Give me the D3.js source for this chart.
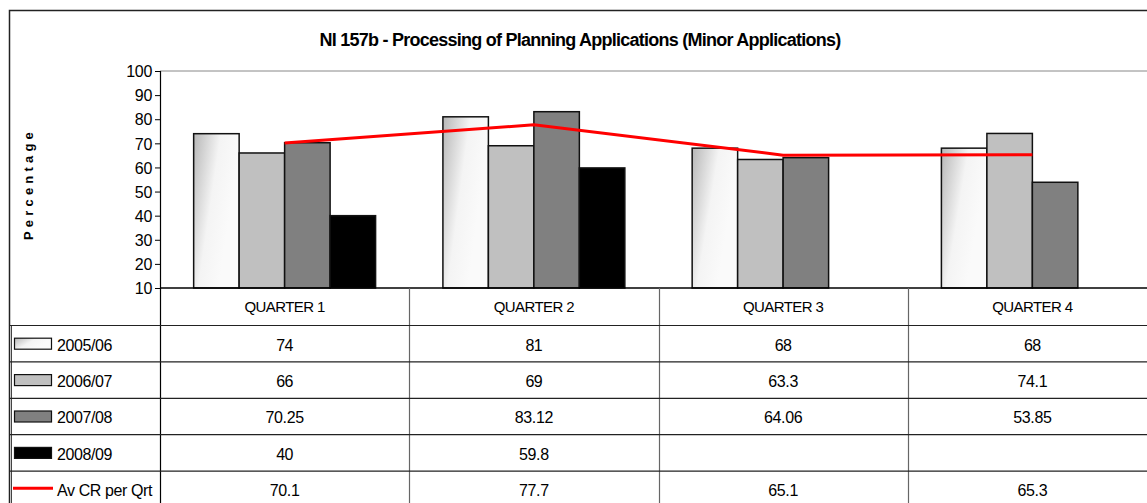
<!DOCTYPE html>
<html>
<head>
<meta charset="utf-8">
<script src="https://cdn.jsdelivr.net/npm/d3@7/dist/d3.min.js"></script>
<style>
  body { margin: 0; background: #fff; }
  text { font-family: "Liberation Sans", Arial, sans-serif; fill: #000; }
</style>
</head>
<body>
<div id="chart"></div>
<script>
var quarters = ["QUARTER 1", "QUARTER 2", "QUARTER 3", "QUARTER 4"];
var seriesNames = ["2005/06", "2006/07", "2007/08", "2008/09"];
var v0506 = [74, 81, 68, 68];
var v0607 = [66, 69, 63.3, 74.1];
var v0708 = [70.25, 83.12, 64.06, 53.85];
var v0809 = [40, 59.8, null, null];
var avgName = "Av CR per Qrt";
var avgCR = [70.1, 77.7, 65.1, 65.3];
var yTicks = [10, 20, 30, 40, 50, 60, 70, 80, 90, 100];
var title = "NI 157b - Processing of Planning Applications (Minor Applications)";

var seriesValues = [v0506, v0607, v0708, v0809];
var fills = ["url(#grad0506)", "#c0c0c0", "#808080", "#000000"];

var width = 1147, height = 503;
var plotLeft = 160, plotRight = 1157, plotTop = 71, plotBottom = 288;
var rowH = 36.4, headerBottom = 325.5;

var svg = d3.select("#chart")
    .append("svg")
    .attr("width", width)
    .attr("height", height);

var defs = svg.append("defs");
var grad = defs.append("linearGradient")
    .attr("id", "grad0506")
    .attr("x1", "0").attr("y1", "0.1")
    .attr("x2", "0.8").attr("y2", "0.5");
grad.append("stop").attr("offset", "0%").attr("stop-color", "#bcbcbc");
grad.append("stop").attr("offset", "55%").attr("stop-color", "#f4f4f4");
grad.append("stop").attr("offset", "100%").attr("stop-color", "#fafafa");

var x = d3.scaleBand()
    .domain(quarters)
    .range([plotLeft, plotRight]);

var xs = d3.scaleBand()
    .domain(seriesNames)
    .range([0, x.bandwidth()])
    .paddingOuter(0.74);

var y = d3.scaleLinear()
    .domain([10, 100])
    .range([plotBottom, plotTop]);

// outer frame
svg.append("path")
    .attr("d", "M9.5," + height + "V10.5H" + width)
    .attr("fill", "none")
    .attr("stroke", "#222")
    .attr("stroke-width", 1.5);

// title
svg.append("text")
    .attr("x", 580)
    .attr("y", 46)
    .attr("text-anchor", "middle")
    .style("font-size", "18px")
    .style("font-weight", "bold")
    .style("letter-spacing", "-0.75px")
    .text(title);

// y label
svg.append("text")
    .attr("transform", "translate(33,184) rotate(-90)")
    .attr("text-anchor", "middle")
    .style("font-size", "13px")
    .style("font-weight", "bold")
    .style("letter-spacing", "4.2px")
    .text("Percentage");

// top border of plot
svg.append("line")
    .attr("x1", plotLeft).attr("x2", width)
    .attr("y1", plotTop).attr("y2", plotTop)
    .attr("stroke", "#888").attr("stroke-width", 1);

// y axis
var yAxis = svg.append("g")
    .attr("transform", "translate(" + plotLeft + ",0)")
    .call(d3.axisLeft(y).tickValues(yTicks).tickSize(5).tickPadding(3));
yAxis.selectAll("text")
    .style("font-size", "16px")
    .style("letter-spacing", "-0.3px")
    .style("font-family", "Liberation Sans, Arial, sans-serif")
    .attr("dy", "0.36em");
yAxis.select(".domain").attr("stroke", "#000").attr("stroke-width", 1);
yAxis.selectAll(".tick line").attr("stroke", "#000");

// bars
var groups = svg.selectAll(".qgroup")
    .data(quarters)
    .enter().append("g")
    .attr("class", "qgroup")
    .attr("transform", function(d) { return "translate(" + x(d) + ",0)"; });

groups.selectAll("rect")
    .data(function(q, qi) {
        return seriesNames.map(function(s, si) {
            return {series: s, si: si, value: seriesValues[si][qi]};
        }).filter(function(d) { return d.value != null; });
    })
    .enter().append("rect")
    .attr("x", function(d) { return xs(d.series); })
    .attr("y", function(d) { return y(d.value); })
    .attr("width", xs.bandwidth())
    .attr("height", function(d) { return plotBottom - y(d.value); })
    .attr("fill", function(d) { return fills[d.si]; })
    .attr("stroke", "#111")
    .attr("stroke-width", 1.5);

// average line
var line = d3.line()
    .x(function(d, i) { return x(quarters[i]) + x.bandwidth() / 2; })
    .y(function(d) { return y(d); });

svg.append("path")
    .datum(avgCR)
    .attr("d", line)
    .attr("fill", "none")
    .attr("stroke", "#ff0000")
    .attr("stroke-width", 3);

// x axis line
svg.append("line")
    .attr("x1", plotLeft).attr("x2", width)
    .attr("y1", plotBottom).attr("y2", plotBottom)
    .attr("stroke", "#000").attr("stroke-width", 1.5);

// data table
var table = svg.append("g");
var rows = seriesNames.concat([avgName]);
var rowValues = seriesValues.concat([avgCR]);
var tableBottom = height + 5;

// vertical lines
table.selectAll(".vline")
    .data(quarters)
    .enter().append("line")
    .attr("x1", function(d) { return Math.round(x(d)) + 0.5; })
    .attr("x2", function(d) { return Math.round(x(d)) + 0.5; })
    .attr("y1", function(d, i) { return i === 0 ? plotTop : plotBottom; })
    .attr("y2", tableBottom)
    .attr("stroke", function(d, i) { return i === 0 ? "#000" : "#666"; })
    .attr("stroke-width", 1.2);

table.append("line")
    .attr("x1", 11.5).attr("x2", 11.5)
    .attr("y1", headerBottom).attr("y2", tableBottom)
    .attr("stroke", "#444").attr("stroke-width", 1);

// horizontal lines
table.selectAll(".hline")
    .data(d3.range(rows.length))
    .enter().append("line")
    .attr("x1", 9)
    .attr("x2", width)
    .attr("y1", function(i) { return headerBottom + i * rowH; })
    .attr("y2", function(i) { return headerBottom + i * rowH; })
    .attr("stroke", "#222")
    .attr("stroke-width", 1.2);

// header labels
table.selectAll(".qlabel")
    .data(quarters)
    .enter().append("text")
    .attr("x", function(d) { return x(d) + x.bandwidth() / 2; })
    .attr("y", 312)
    .attr("text-anchor", "middle")
    .style("font-size", "15px")
    .style("letter-spacing", "-0.6px")
    .text(function(d) { return d; });

// rows
var rowG = table.selectAll(".row")
    .data(rows)
    .enter().append("g")
    .attr("transform", function(d, i) { return "translate(0," + (headerBottom + i * rowH) + ")"; });

rowG.each(function(name, ri) {
    var g = d3.select(this);
    if (ri < seriesNames.length) {
        g.append("rect")
            .attr("x", 14.5).attr("y", rowH / 2 - 5.5)
            .attr("width", 37).attr("height", 11)
            .attr("fill", fills[ri])
            .attr("stroke", "#111")
            .attr("stroke-width", 1.2);
    } else {
        g.append("line")
            .attr("x1", 13).attr("x2", 53)
            .attr("y1", rowH / 2 - 1).attr("y2", rowH / 2 - 1)
            .attr("stroke", "#ff0000")
            .attr("stroke-width", 3);
    }
    g.append("text")
        .attr("x", 57)
        .attr("y", rowH / 2 + 7)
        .style("font-size", "16px")
        .style("letter-spacing", "-0.4px")
        .text(name);

    g.selectAll(".val")
        .data(rowValues[ri])
        .enter().append("text")
        .attr("x", function(d, qi) { return x(quarters[qi]) + x.bandwidth() / 2; })
        .attr("y", rowH / 2 + 7)
        .attr("text-anchor", "middle")
        .style("font-size", "16px")
        .style("letter-spacing", "-0.4px")
        .text(function(d) { return d == null ? "" : d; });
});
</script>
</body>
</html>
